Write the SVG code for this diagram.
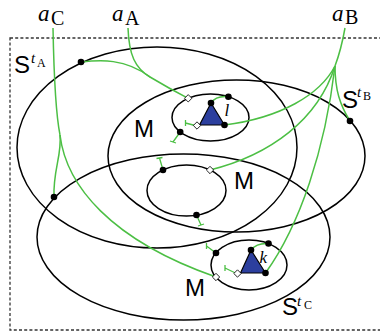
<svg xmlns="http://www.w3.org/2000/svg" width="380" height="333" viewBox="0 0 380 333">
<style>
.frame{fill:none;stroke:#333;stroke-width:1.3;stroke-dasharray:3 2.2}
.ell{fill:none;stroke:#000;stroke-width:1.5}
.g{fill:none;stroke:#4cbf44;stroke-width:1.5}
.tick{fill:none;stroke:#4cbf44;stroke-width:1.3}
.dot{fill:#000}
.dia{fill:#fff;stroke:#000;stroke-width:0.8}
.tri{fill:#2c3f9e;stroke:#000;stroke-width:1.2;stroke-linejoin:round}
.sans{font-family:"Liberation Sans",Arial,sans-serif;font-size:24px;fill:#000}
.it{font-family:"Liberation Serif","Times New Roman",serif;font-style:italic;fill:#000}
.rm{font-family:"Liberation Serif","Times New Roman",serif;fill:#000}
</style>
<rect class="frame" x="10" y="38" width="380" height="292"/>

<g id="S_tA">
<ellipse class="ell" cx="157" cy="147.5" rx="140" ry="100.5"/>
<text class="sans" x="14" y="73">S</text><text class="it" x="31" y="63" font-size="15">t</text><text class="rm" x="37" y="67" font-size="12">A</text>
</g>
<g id="S_tB">
<ellipse class="ell" cx="236.5" cy="156" rx="128.5" ry="76"/>
<text class="sans" x="342" y="108">S</text><text class="it" x="357" y="97" font-size="15">t</text><text class="rm" x="363" y="100" font-size="12">B</text>
</g>
<g id="S_tC">
<ellipse class="ell" cx="183.5" cy="237" rx="146.5" ry="83"/>
<text class="sans" x="282" y="315">S</text><text class="it" x="297" y="306" font-size="15">t</text><text class="rm" x="304" y="309" font-size="12">C</text>
</g>
<g id="M_l">
<ellipse class="ell" cx="210.5" cy="117.5" rx="38.5" ry="23.5"/>
<text class="sans" x="134" y="137">M</text>
</g>
<g id="M_mid">
<ellipse class="ell" cx="186.5" cy="190.5" rx="39.5" ry="25.5"/>
<text class="sans" x="234" y="189">M</text>
</g>
<g id="M_k">
<ellipse class="ell" cx="249" cy="265" rx="38" ry="25"/>
<text class="sans" x="185" y="296">M</text>
</g>

<g id="connectors">
<path class="g" d="M53,28 C54,80 56,115 60,135"/>
<path class="g" d="M60,135 C62,155 53,170 54,197"/>
<path class="g" d="M60,135 C66,185 110,240 216,277"/>
<path class="g" d="M128,28 C129,55 135,68 150,77 C165,86 178,93 188.2,98.3"/>
<path class="g" d="M81,62 C100,60 125,58 150,77"/>
<path class="g" d="M345,28 C342,45 338,58 335,66"/>
<path class="g" d="M335,66 C335,90 340,105 350,121"/>
<path class="g" d="M335,66 C320,95 280,118 224.5,125"/>
<path class="g" d="M335,66 C318,120 270,155 210,170"/>
<path class="g" d="M335,66 C325,150 300,225 265.5,273"/>
<path class="g" d="M211,103 C215,97 222,96 228.4,96.7"/>
<path class="g" d="M251,250 C255,245 262,243 268.5,243.5"/>
<path class="tick" d="M180.2,132 L173,142 M170,141 L176,143"/>
<path class="tick" d="M163,170 L159.5,158 M156.5,158.5 L162.5,157.5"/>
<path class="tick" d="M196.5,215 L201,225 M198,226 L204,224"/>
<path class="tick" d="M216,253 L206.5,246 M206.5,243 L206.5,249"/>
<path class="tick" d="M197,126 L185.5,123 M185.5,120 L185.5,126"/>
<path class="tick" d="M237.5,274 L225,268 M225,265 L225,271"/>
</g>

<g id="labels">
<text class="it" x="38" y="21" font-size="23">a</text><text class="rm" x="51" y="25" font-size="20">C</text>
<text class="it" x="112" y="21" font-size="23">a</text><text class="rm" x="125" y="25" font-size="20">A</text>
<text class="it" x="332" y="21" font-size="23">a</text><text class="rm" x="345" y="24" font-size="20">B</text>
</g>

<g id="node_l">
<polygon class="tri" points="211,103 199.5,125 224.5,125"/>
<circle class="dot" cx="211" cy="103" r="3.3"/>
<circle class="dot" cx="224.5" cy="125" r="3.3"/>
<rect class="dia" x="-2.6" y="-2.6" width="5.2" height="5.2" transform="translate(197,125.5) rotate(45)"/>
<text class="it" x="224.5" y="116" font-size="17">l</text>
</g>
<g id="node_k">
<polygon class="tri" points="251,250 240.5,273 265.5,273"/>
<circle class="dot" cx="251" cy="250" r="3.3"/>
<circle class="dot" cx="265.5" cy="273" r="3.3"/>
<rect class="dia" x="-2.6" y="-2.6" width="5.2" height="5.2" transform="translate(237.5,273.5) rotate(45)"/>
<text class="it" x="259.5" y="263" font-size="17">k</text>
</g>
<g id="ports">
<circle class="dot" cx="81" cy="62" r="3.3"/>
<circle class="dot" cx="350" cy="121" r="3.3"/>
<circle class="dot" cx="54" cy="197" r="3.3"/>
<circle class="dot" cx="228.4" cy="96.7" r="3.3"/>
<circle class="dot" cx="180.2" cy="132" r="3.3"/>
<circle class="dot" cx="163" cy="170" r="3.3"/>
<circle class="dot" cx="196.5" cy="215" r="3.3"/>
<circle class="dot" cx="216" cy="253" r="3.3"/>
<circle class="dot" cx="268.5" cy="243.5" r="3.3"/>
<rect class="dia" x="-2.6" y="-2.6" width="5.2" height="5.2" transform="translate(188.2,98.3) rotate(45)"/>
<rect class="dia" x="-2.6" y="-2.6" width="5.2" height="5.2" transform="translate(210,170) rotate(45)"/>
<rect class="dia" x="-2.6" y="-2.6" width="5.2" height="5.2" transform="translate(216,277) rotate(45)"/>
</g>
</svg>
